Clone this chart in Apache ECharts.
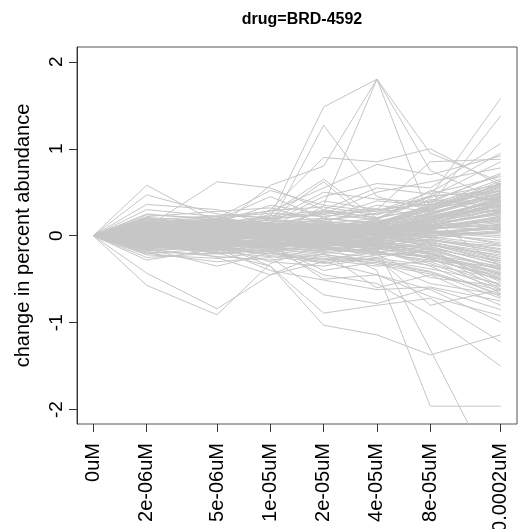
<!DOCTYPE html>
<html>
<head>
<meta charset="utf-8">
<script src="https://cdn.jsdelivr.net/npm/echarts@6/dist/echarts.min.js"></script>
<style>html,body{margin:0;padding:0;background:#fff}#c{width:518px;height:529px}</style>
</head>
<body>
<div id="c"></div>
<script>
// Concentrations (uM); 0uM is drawn one doubling below the first dose (1e-6), as in the reference
const concentrations = [0, 2e-6, 5e-6, 1e-5, 2e-5, 4e-5, 8e-5, 2e-4];
const doseLabels = ['0uM', '2e-06uM', '5e-06uM', '1e-05uM', '2e-05uM', '4e-05uM', '8e-05uM', '0.0002uM'];
const yTicks = [-2, -1, 0, 1, 2];
const chartTitle = 'drug=BRD-4592';
const yTitle = 'change in percent abundance';

// change in percent abundance per protein, one row per line
const upperOutliers = [
  [0, 0.58, 0.15, 0.10, 0.05, 0.12, 0.30, 0.55],
  [0, 0.47, 0.25, 0.20, 0.10, 0.05, 0.15, 0.30],
  [0, 0.36, 0.30, 0.12, 0.18, 0.25, 0.40, 0.70],
  [0, 0.10, 0.62, 0.55, 0.30, 0.20, 0.45, 0.85],
  [0, 0.05, 0.20, 0.52, 0.35, 0.28, 0.50, 0.95],
  [0, 0.05, 0.10, 0.22, 1.48, 1.80, 0.95, 0.62],
  [0, 0.02, 0.08, 0.58, 0.80, 1.80, 0.75, 0.40],
  [0, 0.08, 0.04, -0.05, 0.35, 1.80, 0.20, -0.35],
  [0, 0.06, 0.18, 0.12, 1.27, 0.45, 0.30, 0.48],
  [0, -0.02, -0.08, 0.30, 0.90, 0.85, 1.00, 0.58],
  [0, 0.12, 0.05, 0.25, 0.65, 0.20, 0.45, 1.58],
  [0, 0.03, -0.05, 0.08, 0.20, 0.40, 0.35, 1.38],
  [0, -0.05, 0.02, 0.15, 0.45, 0.60, 0.55, 1.06],
  [0, 0.15, 0.22, 0.28, 0.55, 0.82, 0.70, 0.92],
  [0, 0.10, 0.05, 0.10, 0.40, 0.30, 0.85, 0.88],
  [0, 0.07, 0.15, 0.35, 0.25, 0.50, 0.62, 0.78],
  [0, 0.20, 0.12, 0.18, 0.50, 0.42, 0.38, 0.72],
  [0, 0.00, 0.10, 0.05, 0.30, 0.55, 0.48, 0.68],
  [0, 0.25, 0.18, 0.45, 0.20, 0.15, 0.35, 0.65],
  [0, -0.04, 0.05, 0.20, 0.62, 0.10, 0.25, 0.45],
  [0, 0.30, 0.22, 0.10, 0.28, 0.18, 0.52, 0.40],
  [0, 0.22, 0.28, 0.32, 0.15, 0.35, 0.28, 0.60]
];
const lowerOutliers = [
  [0, -0.57, -0.91, -0.32, -0.10, -0.40, -1.96, -1.96],
  [0, -0.43, -0.84, -0.45, -0.30, -0.15, -1.31, -2.89],
  [0, -0.05, -0.10, -0.35, -1.03, -1.14, -1.37, -1.14],
  [0, -0.10, -0.20, -0.35, -0.89, -0.80, -0.72, -1.22],
  [0, 0.05, -0.05, -0.15, -0.45, -0.55, -0.91, -1.50],
  [0, -0.12, -0.18, -0.10, -0.50, -0.45, -0.62, -0.99],
  [0, -0.20, -0.30, -0.25, -0.68, -0.78, -0.60, -0.85],
  [0, -0.28, -0.15, -0.40, -0.51, -0.62, -0.59, -0.75],
  [0, -0.15, -0.35, -0.20, -0.30, -0.45, -0.70, -0.92],
  [0, -0.25, -0.20, -0.12, -0.40, -0.30, -0.55, -0.68],
  [0, -0.05, -0.25, -0.45, -0.20, -0.60, -0.45, -0.80],
  [0, 0.10, -0.12, -0.30, -0.35, -0.25, -0.80, -0.62],
  [0, -0.22, -0.26, -0.18, -0.32, -0.22, -0.48, -0.58]
];
const midSpread = [
  [0, 0.12, 0.20, 0.26, 0.22, 0.30, 0.36, 0.44],
  [0, -0.16, -0.24, -0.28, -0.21, -0.33, -0.44, -0.63],
  [0, 0.08, 0.18, 0.29, 0.33, 0.24, 0.40, 0.27],
  [0, -0.09, -0.19, -0.24, -0.31, -0.26, -0.34, -0.49],
  [0, 0.18, 0.23, 0.21, 0.27, 0.31, 0.22, 0.39],
  [0, -0.18, -0.12, -0.23, -0.27, -0.35, -0.29, -0.36],
  [0, 0.04, 0.14, 0.23, 0.29, 0.21, 0.31, 0.52],
  [0, -0.11, -0.20, -0.17, -0.24, -0.29, -0.41, -0.67],
  [0, 0.15, 0.09, 0.19, 0.25, 0.28, 0.44, 0.59],
  [0, -0.07, -0.16, -0.21, -0.28, -0.19, -0.25, -0.43]
];
const coreProfiles = [
  [0, 0.05, 0.08, 0.02, -0.04, 0.03, 0.12, 0.25],
  [0, -0.03, -0.06, -0.10, -0.08, -0.12, -0.05, -0.18],
  [0, 0.10, 0.04, 0.07, 0.12, 0.05, 0.20, 0.41],
  [0, -0.08, -0.02, 0.03, -0.05, -0.10, -0.22, -0.35],
  [0, 0.02, 0.11, 0.06, 0.01, -0.03, 0.08, 0.15],
  [0, 0.14, 0.09, 0.12, 0.05, 0.09, 0.18, 0.33],
  [0, -0.12, -0.15, -0.08, -0.14, -0.20, -0.28, -0.46],
  [0, 0.06, -0.01, -0.04, 0.02, 0.07, -0.03, 0.05],
  [0, -0.05, 0.03, 0.00, -0.07, -0.02, 0.10, 0.22],
  [0, 0.18, 0.12, 0.15, 0.08, 0.02, 0.25, 0.52],
  [0, -0.02, -0.09, -0.13, -0.18, -0.15, -0.09, -0.27],
  [0, 0.08, 0.14, 0.10, 0.16, 0.11, 0.30, 0.48],
  [0, -0.15, -0.10, -0.05, -0.01, -0.08, -0.15, -0.58],
  [0, 0.03, 0.01, 0.08, 0.04, 0.12, 0.05, -0.10],
  [0, 0.11, 0.06, -0.02, -0.06, 0.01, 0.14, 0.37],
  [0, -0.07, -0.12, -0.18, -0.11, -0.05, 0.02, 0.09],
  [0, 0.00, 0.05, 0.03, 0.09, 0.15, 0.22, 0.30],
  [0, -0.10, -0.04, -0.07, -0.12, -0.18, -0.32, -0.62],
  [0, 0.16, 0.19, 0.13, 0.10, 0.04, 0.09, 0.20],
  [0, -0.04, 0.02, 0.05, 0.00, -0.06, -0.14, -0.40],
  [0, 0.07, 0.10, 0.16, 0.20, 0.14, 0.35, 0.58],
  [0, -0.13, -0.07, -0.11, -0.03, 0.04, -0.06, -0.12],
  [0, 0.01, -0.05, -0.01, -0.09, -0.13, 0.04, 0.11],
  [0, 0.12, 0.15, 0.09, 0.03, -0.04, 0.11, 0.28],
  [0, -0.06, -0.11, -0.06, -0.15, -0.22, -0.18, -0.50],
  [0, 0.04, 0.07, 0.11, 0.06, 0.08, 0.16, 0.44],
  [0, -0.09, -0.03, 0.01, 0.05, -0.01, -0.11, -0.22],
  [0, 0.20, 0.13, 0.08, 0.11, 0.17, 0.28, 0.61],
  [0, -0.01, 0.04, -0.03, -0.10, -0.07, 0.01, -0.05],
  [0, 0.09, 0.02, 0.05, -0.02, 0.06, 0.19, 0.35],
  [0, -0.17, -0.13, -0.09, -0.16, -0.11, -0.25, -0.66],
  [0, 0.05, 0.12, 0.07, 0.13, 0.03, -0.02, 0.14],
  [0, -0.03, -0.08, -0.14, -0.07, -0.16, -0.10, -0.31],
  [0, 0.13, 0.08, 0.14, 0.09, 0.12, 0.07, 0.18],
  [0, 0.02, -0.02, 0.02, 0.07, 0.10, 0.24, 0.47],
  [0, -0.11, -0.06, -0.02, -0.09, -0.03, 0.06, 0.02],
  [0, 0.07, 0.03, -0.06, -0.12, -0.09, -0.20, -0.44],
  [0, -0.05, 0.01, 0.04, 0.01, 0.05, 0.13, 0.26],
  [0, 0.15, 0.10, 0.06, 0.14, 0.20, 0.33, 0.55],
  [0, -0.08, -0.14, -0.10, -0.05, -0.14, -0.24, -0.38],
  [0, 0.03, 0.06, 0.09, 0.02, -0.05, 0.03, 0.08],
  [0, -0.14, -0.09, -0.12, -0.19, -0.25, -0.15, -0.29],
  [0, 0.10, 0.16, 0.12, 0.07, 0.01, 0.10, 0.32],
  [0, -0.02, -0.04, 0.00, 0.03, 0.09, 0.17, 0.39],
  [0, 0.06, 0.00, -0.05, -0.03, -0.08, -0.04, -0.16],
  [0, -0.06, 0.05, 0.10, 0.04, 0.00, 0.08, 0.13],
  [0, 0.17, 0.11, 0.04, 0.00, 0.06, 0.21, 0.43],
  [0, -0.10, -0.16, -0.12, -0.08, -0.17, -0.35, -0.70],
  [0, 0.01, 0.03, 0.06, 0.10, 0.13, 0.26, 0.50],
  [0, -0.04, -0.07, -0.04, -0.11, -0.04, 0.05, 0.00],
  [0, 0.08, 0.13, 0.18, 0.12, 0.07, 0.15, 0.24],
  [0, -0.12, -0.05, 0.02, -0.02, -0.09, -0.19, -0.53],
  [0, 0.04, -0.03, -0.08, -0.14, -0.10, 0.00, 0.06],
  [0, 0.11, 0.07, 0.03, 0.08, 0.14, 0.31, 0.63],
  [0, -0.07, -0.01, -0.05, 0.02, 0.03, -0.08, -0.20],
  [0, 0.00, 0.09, 0.13, 0.17, 0.10, 0.19, 0.29],
  [0, -0.16, -0.12, -0.07, -0.13, -0.19, -0.12, -0.34],
  [0, 0.09, 0.05, 0.01, -0.05, 0.02, 0.11, 0.17],
  [0, -0.01, -0.06, -0.09, -0.04, -0.11, -0.27, -0.48],
  [0, 0.14, 0.17, 0.11, 0.06, 0.11, 0.23, 0.40],
  [0, 0.03, 0.08, 0.04, -0.01, 0.04, 0.09, 0.21],
  [0, -0.09, -0.08, -0.15, -0.20, -0.14, -0.07, -0.24],
  [0, 0.06, 0.02, 0.07, 0.11, 0.18, 0.14, 0.36],
  [0, -0.03, 0.00, -0.02, -0.06, -0.01, 0.03, -0.08],
  [0, 0.12, 0.06, 0.10, 0.15, 0.08, 0.38, 0.57],
  [0, -0.11, -0.17, -0.11, -0.06, -0.12, -0.21, -0.42],
  [0, 0.02, 0.10, 0.05, 0.00, -0.02, 0.12, 0.27],
  [0, -0.06, -0.02, 0.03, 0.06, 0.01, -0.13, -0.33],
  [0, 0.08, 0.11, 0.08, 0.03, 0.09, 0.04, 0.10],
  [0, -0.13, -0.08, -0.04, -0.10, -0.06, -0.02, -0.15],
  [0, 0.19, 0.14, 0.09, 0.13, 0.06, 0.27, 0.46],
  [0, 0.00, -0.04, -0.07, -0.13, -0.18, -0.30, -0.57],
  [0, 0.05, 0.09, 0.14, 0.08, 0.12, 0.20, 0.34],
  [0, -0.08, -0.05, -0.01, 0.04, 0.07, 0.00, 0.04],
  [0, 0.10, 0.03, -0.03, -0.08, -0.05, 0.07, 0.19],
  [0, -0.02, 0.06, 0.02, -0.03, 0.02, 0.15, 0.31],
  [0, 0.13, 0.18, 0.15, 0.10, 0.15, 0.32, 0.53],
  [0, -0.05, -0.10, -0.16, -0.12, -0.07, -0.16, -0.37],
  [0, 0.07, 0.04, 0.00, 0.05, 0.00, -0.07, -0.26],
  [0, -0.14, -0.11, -0.06, -0.02, 0.05, 0.10, 0.07],
  [0, 0.04, 0.00, 0.04, 0.09, 0.04, 0.18, 0.42],
  [0, -0.10, -0.03, -0.09, -0.15, -0.21, -0.23, -0.45],
  [0, 0.16, 0.12, 0.07, 0.02, 0.08, 0.13, 0.16],
  [0, 0.01, 0.07, 0.12, 0.07, 0.13, 0.29, 0.60],
  [0, -0.07, -0.13, -0.08, -0.04, -0.09, -0.01, -0.11],
  [0, 0.09, 0.15, 0.11, 0.14, 0.10, 0.06, 0.23],
  [0, -0.04, -0.01, 0.05, 0.00, -0.04, -0.10, -0.29],
  [0, 0.11, 0.04, 0.01, -0.04, 0.03, 0.16, 0.38],
  [0, -0.12, -0.07, -0.13, -0.09, -0.13, -0.20, -0.61],
  [0, 0.06, 0.10, 0.06, 0.12, 0.16, 0.25, 0.49],
  [0, -0.01, -0.05, -0.10, -0.05, 0.01, 0.08, 0.12],
  [0, 0.14, 0.07, 0.03, 0.07, 0.02, 0.12, 0.28],
  [0, -0.09, -0.04, 0.00, -0.07, -0.15, -0.26, -0.51],
  [0, 0.03, 0.12, 0.08, 0.03, 0.06, 0.22, 0.35],
  [0, -0.06, -0.09, -0.03, 0.01, -0.03, 0.04, -0.02],
  [0, 0.08, 0.01, 0.06, 0.10, 0.14, 0.34, 0.56],
  [0, -0.15, -0.09, -0.14, -0.17, -0.10, -0.17, -0.39],
  [0, 0.02, 0.05, 0.09, 0.05, 0.00, 0.02, 0.09],
  [0, 0.12, 0.09, 0.02, -0.01, 0.05, 0.18, 0.45],
  [0, -0.03, -0.07, -0.11, -0.16, -0.12, -0.04, -0.19],
  [0, 0.21, 0.16, 0.20, 0.24, 0.19, 0.42, 0.33],
  [0, -0.19, -0.21, -0.15, -0.22, -0.28, -0.38, -0.55],
  [0, 0.24, 0.20, 0.14, 0.18, 0.26, 0.46, 0.51],
  [0, -0.21, -0.14, -0.19, -0.26, -0.31, -0.42, -0.72]
];

// x positions on a log10 scale (0uM placed at 1e-6)
const xPos = concentrations.map(c => Math.log10(c === 0 ? 1e-6 : c));
const xPad = (xPos[xPos.length - 1] - xPos[0]) * 0.04;

const allRows = coreProfiles.concat(midSpread, upperOutliers, lowerOutliers);
const series = allRows.map(row => ({
  type: 'line',
  data: row.map((v, i) => [xPos[i], v]),
  symbol: 'none',
  silent: true,
  clip: true,
  lineStyle: { color: '#c6c6c6', width: 1 }
}));

const font = '"Liberation Sans", Arial, Helvetica, sans-serif';
const chart = echarts.init(document.getElementById('c'), null, { renderer: 'canvas' });
chart.setOption({
  animation: false,
  backgroundColor: '#ffffff',
  title: {
    text: chartTitle,
    left: 297, top: 7, textAlign: 'center',
    textStyle: { fontFamily: font, fontSize: 16, fontWeight: 'bold', color: '#000' }
  },
  grid: {
    left: 77, right: 1, top: 47, bottom: 105,
    outerBoundsMode: 'none',
    show: true, borderColor: '#555', borderWidth: 1, backgroundColor: 'transparent'
  },
  xAxis: {
    type: 'value',
    min: xPos[0] - xPad,
    max: xPos[xPos.length - 1] + xPad,
    splitLine: { show: false },
    axisLine: { show: false, onZero: false },
    axisTick: { show: true, customValues: xPos, length: 8, lineStyle: { color: '#333' } },
    axisLabel: {
      customValues: xPos, rotate: 90, margin: 19,
      fontFamily: font, fontSize: 20, color: '#000',
      formatter: v => {
        const i = xPos.findIndex(p => Math.abs(p - v) < 1e-6);
        return i >= 0 ? doseLabels[i] : '';
      }
    }
  },
  yAxis: {
    type: 'value',
    min: -2.165, max: 2.17,
    name: yTitle, nameLocation: 'middle', nameRotate: 90, nameGap: 44,
    nameTextStyle: { fontFamily: font, fontSize: 20, color: '#000' },
    splitLine: { show: false },
    axisLine: { show: true, onZero: false, lineStyle: { color: '#333' } },
    axisTick: { show: true, customValues: yTicks, length: 8, lineStyle: { color: '#333' } },
    axisLabel: {
      customValues: yTicks, rotate: 90, margin: 11,
      fontFamily: font, fontSize: 19, color: '#000'
    }
  },
  series: series
});
</script>
</body>
</html>
